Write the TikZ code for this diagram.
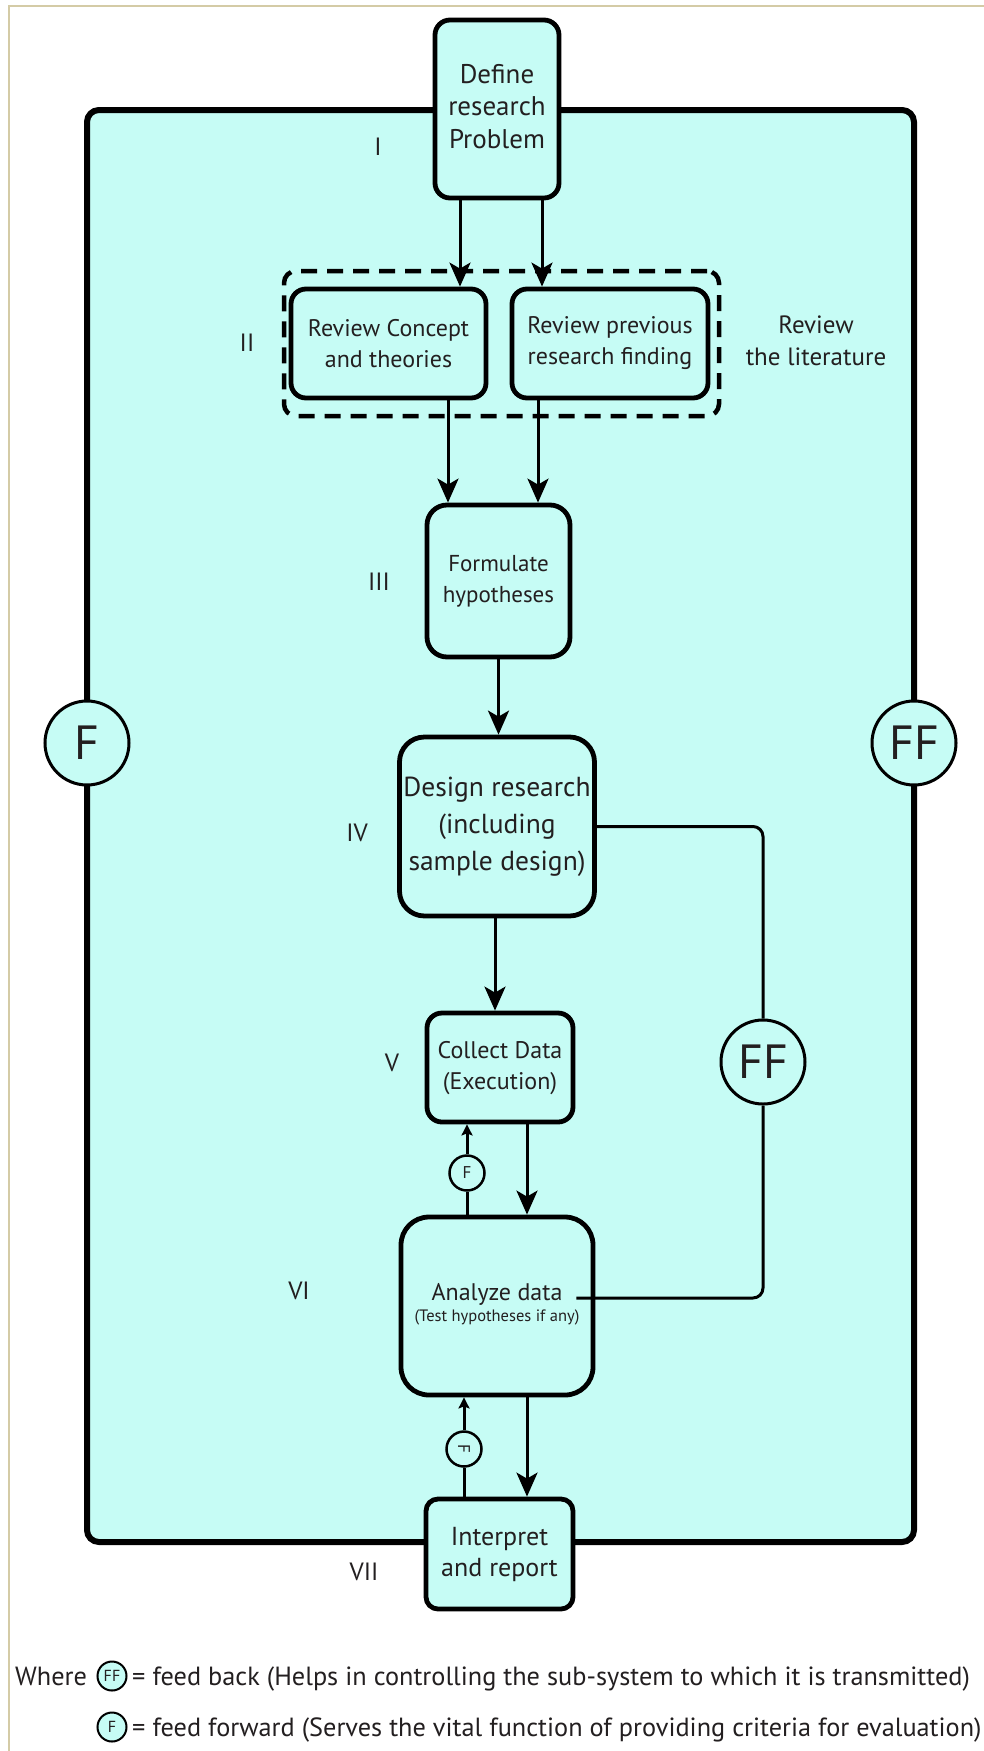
\documentclass[tikz,border=0pt]{standalone}
\usepackage{fontspec}
\setmainfont{PT Sans}
\usetikzlibrary{arrows.meta}
\definecolor{panel}{RGB}{198,252,245}
\definecolor{ink}{RGB}{35,31,32}
\definecolor{framecol}{RGB}{212,203,166}
\begin{document}
\begin{tikzpicture}[x=1pt,y=-1pt,
  box/.style={draw=black, line width=4.8pt, fill=panel, inner sep=0pt,
    align=center, text=ink},
  numeral/.style={text=ink, font=\fontsize{25}{28}\selectfont},
  arr/.style={line width=3pt, -{Stealth[length=24pt,width=21pt,inset=6pt]}},
  smallarr/.style={line width=3pt, -{Stealth[length=11pt,width=11pt,inset=2pt]}},
  link/.style={line width=3pt},
  bigcirc/.style={circle, draw=black, line width=3pt, fill=panel, inner sep=0pt,
    minimum size=84pt, text=ink, font=\fontsize{48}{48}\selectfont},
  smallcirc/.style={circle, draw=black, line width=2.5pt, fill=panel, inner sep=0pt,
    minimum size=35pt, text=ink, font=\fontsize{17}{17}\selectfont},
  legcirc/.style={circle, draw=black, line width=2pt, fill=panel, inner sep=0pt,
    minimum size=29pt, text=ink, font=\fontsize{16}{16}\selectfont},
  legtext/.style={text=ink, inner sep=0pt, font=\fontsize{26.3}{30}\selectfont}]
\useasboundingbox (0,0) rectangle (984,1751);

% thin frame along the top and left edges
\draw[framecol, line width=2pt] (9,1751) -- (9,6) -- (984,6);

% the large system panel
\draw[line width=6pt, fill=panel, rounded corners=12pt] (87,110) rectangle (914,1542);

% column guides for the connectors
\coordinate (c448) at (448,0);
\coordinate (c460) at (460,0);
\coordinate (c464) at (464,0);
\coordinate (c467) at (467,0);
\coordinate (c495) at (495,0);
\coordinate (c527) at (527,0);
\coordinate (c538) at (538,0);
\coordinate (c542) at (542,0);

% literature group
\node[draw=black, line width=4.5pt, dash pattern=on 16pt off 10pt, rounded corners=12pt,
  minimum width=435pt, minimum height=145pt, inner sep=0pt] (litgroup) at (501.5,343.5) {};

% process steps
\node[box, rounded corners=15pt, minimum width=124pt, minimum height=178pt,
  font=\fontsize{27}{32.5}\selectfont] (define) at (497,109)
  {\raisebox{7pt}{\begin{tabular}{@{}c@{}}Define\\research\\Problem\end{tabular}}};
\node[box, rounded corners=15pt, minimum width=195pt, minimum height=109pt,
  font=\fontsize{24}{31}\selectfont] (revA) at (388.5,343.5) {Review Concept\\and theories};
\node[box, rounded corners=15pt, minimum width=196pt, minimum height=109pt,
  font=\fontsize{24}{31}\selectfont] (revB) at (610,343.5) {Review previous\\research finding};
\node[box, rounded corners=20pt, minimum width=143pt, minimum height=152pt,
  font=\fontsize{23}{31}\selectfont] (formulate) at (498.5,581)
  {\raisebox{6pt}{\begin{tabular}{@{}c@{}}Formulate\\hypotheses\end{tabular}}};
\node[box, rounded corners=25pt, minimum width=195pt, minimum height=179pt,
  font=\fontsize{27.5}{37}\selectfont] (design) at (497,826.5)
  {\raisebox{5pt}{\begin{tabular}{@{}c@{}}Design research\\(including\\sample design)\end{tabular}}};
\node[box, rounded corners=15pt, minimum width=146pt, minimum height=109pt,
  font=\fontsize{24}{31}\selectfont] (collect) at (500,1067.5)
  {\raisebox{3pt}{\begin{tabular}{@{}c@{}}Collect Data\\(Execution)\end{tabular}}};
\node[box, rounded corners=28pt, minimum width=192pt, minimum height=178pt,
  font=\fontsize{24}{24}\selectfont] (analyze) at (497,1306)
  {\raisebox{5pt}{\begin{tabular}{@{}c@{}}Analyze data\\[-3pt]{\fontsize{16.5}{18}\selectfont (Test hypotheses if any)}\end{tabular}}};
\node[box, rounded corners=12pt, minimum width=147pt, minimum height=110pt,
  font=\fontsize{26}{31}\selectfont] (interpret) at (499.5,1554) {Interpret\\and report};

% side label
\node[text=ink, align=center, font=\fontsize{25}{32}\selectfont] (litlabel) at (816,341)
  {Review\\the literature};

% stage numerals
\node[numeral] (n1) at (378,147) {I};
\node[numeral] (n2) at (247,343) {II};
\node[numeral] (n3) at (379,582) {III};
\node[numeral] (n4) at (357,833) {IV};
\node[numeral] (n5) at (392,1063) {V};
\node[numeral] (n6) at (299,1291) {VI};
\node[numeral] (n7) at (364,1572) {VII};

% feed-forward / feed-back markers on the panel
\node[bigcirc] (fleft) at (87,743) {F};
\node[bigcirc] (ffright) at (914,743) {FF};
\node[bigcirc] (ffloop) at (763,1062) {FF};

% main flow
\draw[arr] (define.south -| c460) -- (revA.north -| c460);
\draw[arr] (define.south -| c542) -- (revB.north -| c542);
\draw[arr] (revA.south -| c448) -- (formulate.north -| c448);
\draw[arr] (revB.south -| c538) -- (formulate.north -| c538);
\draw[arr] (formulate.south) -- (formulate.south |- design.north);
\draw[arr] (design.south -| c495) -- (collect.north -| c495);
\draw[arr] (collect.south -| c527) -- (analyze.north -| c527);
\draw[arr] (analyze.south -| c527) -- (interpret.north -| c527);

% feed-back loop from design to analysis
\draw[link, rounded corners=10pt] (design.east) -| (ffloop.north);
\draw[link, rounded corners=10pt] (ffloop.south) |- ([xshift=-19pt,yshift=8pt]analyze.east);

% feed-forward returns
\node[smallcirc] (fa) at (467,1173) {F};
\draw[link] (analyze.north -| c467) -- (fa.south);
\draw[smallarr] (fa.north) -- (collect.south -| c467);
\node[smallcirc, rotate=-90] (fb) at (464,1449) {F};
\draw[link] (interpret.north -| c464) -- (fb.east);
\draw[smallarr] (fb.west) -- (analyze.south -| c464);

% legend
\node[legtext, anchor=base west] (where) at (15,1685) {Where};
\node[legcirc] (legff) at (112,1676) {FF};
\node[legtext, anchor=base west] (legfbtext) at (132,1685)
  {= feed back (Helps in controlling the sub-system to which it is transmitted)};
\node[legcirc] (legf) at (112,1727) {F};
\node[legtext, anchor=base west] (legfftext) at (132,1736)
  {= feed forward (Serves the vital function of providing criteria for evaluation)};
\end{tikzpicture}
\end{document}
